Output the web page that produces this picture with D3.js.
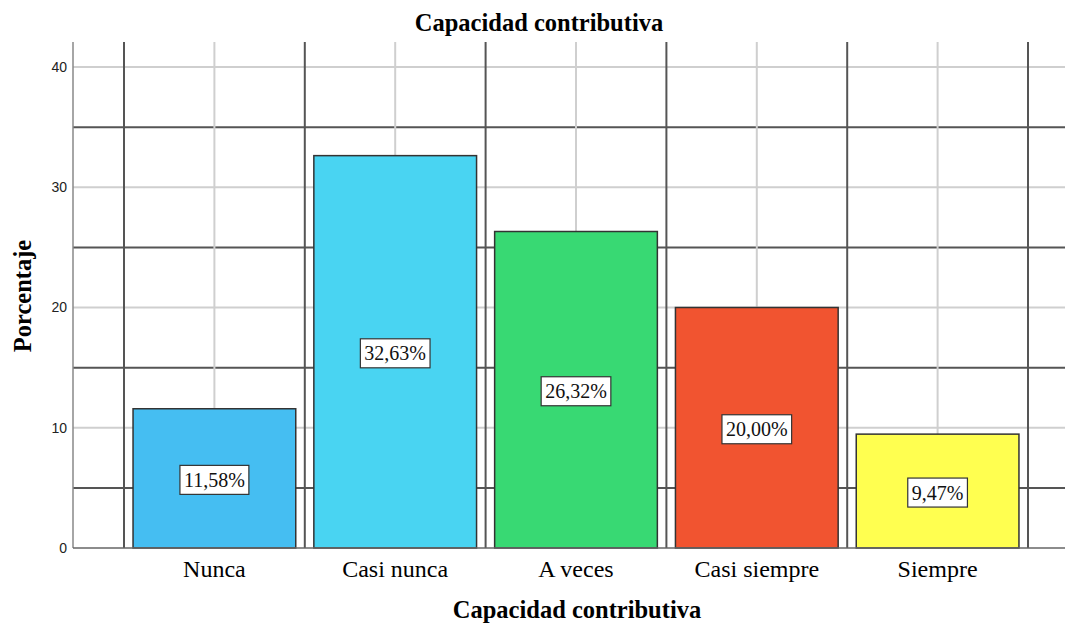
<!DOCTYPE html>
<html><head><meta charset="utf-8">
<script src="https://cdn.jsdelivr.net/npm/d3@7"></script>
<style>body{margin:0;background:#fff;}svg{display:block;}</style>
</head><body>
<svg id="c" width="1065" height="623"></svg>
<script>
const categories = ["Nunca", "Casi nunca", "A veces", "Casi siempre", "Siempre"];
const values = [11.58, 32.63, 26.32, 20.00, 9.47];
const colors = ["#45bef2", "#49d4f2", "#38d973", "#f15430", "#ffff50"];
const yTicks = [0, 10, 20, 30, 40];
const yMajorGrid = [5, 15, 25, 35];
const chartTitle = "Capacidad contributiva";
const xTitle = "Capacidad contributiva";
const yTitle = "Porcentaje";

(function () {
const svg = d3.select("#c");
const pL = 73, pT = 42, pB = 548, pR = 1079;
const y = d3.scaleLinear().domain([0, 42.08]).range([pB, pT]);
const x = d3.scaleBand().domain(categories).range([124, 1028]).paddingInner(0.1).paddingOuter(0.05);
const step = x.step();

const grid = svg.append("g");
grid.selectAll(".hl").data(yTicks.filter(d => d > 0)).join("line")
  .attr("x1", pL).attr("x2", pR).attr("y1", d => y(d)).attr("y2", d => y(d))
  .attr("stroke", "#cfcfcf").attr("stroke-width", 2);
grid.selectAll(".hd").data(yMajorGrid).join("line")
  .attr("x1", pL).attr("x2", pR).attr("y1", d => y(d)).attr("y2", d => y(d))
  .attr("stroke", "#555").attr("stroke-width", 2);
grid.selectAll(".vl").data(categories).join("line")
  .attr("x1", d => x(d) + x.bandwidth() / 2).attr("x2", d => x(d) + x.bandwidth() / 2)
  .attr("y1", pT).attr("y2", pB)
  .attr("stroke", "#cfcfcf").attr("stroke-width", 2);
const bounds = d3.range(categories.length + 1).map(i => x.range()[0] + i * step);
grid.selectAll(".vd").data(bounds).join("line")
  .attr("x1", d => d).attr("x2", d => d).attr("y1", pT).attr("y2", pB)
  .attr("stroke", "#555").attr("stroke-width", 2);

svg.append("line").attr("x1", pL).attr("x2", pL).attr("y1", pT).attr("y2", pB)
  .attr("stroke", "#888").attr("stroke-width", 1.5);

svg.selectAll(".bar").data(categories).join("rect")
  .attr("x", d => x(d)).attr("width", x.bandwidth())
  .attr("y", (d, i) => y(values[i])).attr("height", (d, i) => y(0) - y(values[i]))
  .attr("fill", (d, i) => colors[i]).attr("stroke", "#333").attr("stroke-width", 1.5);

svg.append("line").attr("x1", pL).attr("x2", pR).attr("y1", pB).attr("y2", pB)
  .attr("stroke", "#666").attr("stroke-width", 1.5);

svg.selectAll(".yt").data(yTicks).join("text")
  .attr("x", 67).attr("y", d => y(d)).attr("dy", "0.35em")
  .attr("text-anchor", "end").attr("font-family", "Liberation Sans, Arial, sans-serif")
  .attr("font-size", 14).attr("fill", "#222").text(d => d);

svg.selectAll(".xt").data(categories).join("text")
  .attr("x", d => x(d) + x.bandwidth() / 2).attr("y", 577)
  .attr("text-anchor", "middle").attr("font-family", "Liberation Serif, Times New Roman, serif")
  .attr("font-size", 24).attr("fill", "#000").text(d => d);

const fmt = v => d3.format(".2f")(v).replace(".", ",") + "%";
const lbl = svg.selectAll(".lb").data(categories).join("g")
  .attr("transform", (d, i) => `translate(${x(d) + x.bandwidth() / 2},${(y(values[i]) + y(0)) / 2 + 1.5})`);
const rects = lbl.append("rect").attr("fill", "#fff").attr("stroke", "#333").attr("stroke-width", 1.2);
const texts = lbl.append("text").attr("text-anchor", "middle").attr("y", 7)
  .attr("font-family", "Liberation Serif, Times New Roman, serif").attr("font-size", 20)
  .attr("fill", "#111").text((d, i) => fmt(values[i]));
texts.each(function () {
  const w = this.getComputedTextLength();
  d3.select(this.previousSibling).attr("x", -w / 2 - 4).attr("width", w + 8).attr("y", -14.5).attr("height", 29);
});

svg.append("text").attr("x", 539).attr("y", 31).attr("text-anchor", "middle")
  .attr("font-family", "Liberation Serif, Times New Roman, serif").attr("font-weight", "bold")
  .attr("font-size", 24.5).text(chartTitle);
svg.append("text").attr("x", 577).attr("y", 618).attr("text-anchor", "middle")
  .attr("font-family", "Liberation Serif, Times New Roman, serif").attr("font-weight", "bold")
  .attr("font-size", 24.5).text(xTitle);
svg.append("text").attr("transform", "translate(31,296) rotate(-90)").attr("text-anchor", "middle")
  .attr("font-family", "Liberation Serif, Times New Roman, serif").attr("font-weight", "bold")
  .attr("font-size", 24.5).text(yTitle);
})();
</script>
</body></html>
